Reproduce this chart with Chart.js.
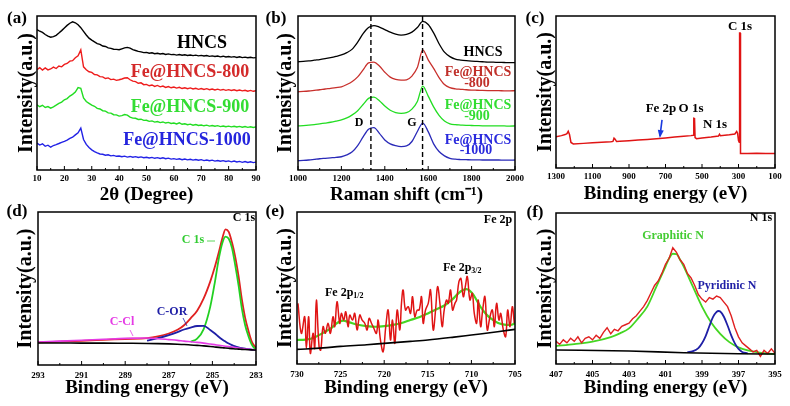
<!DOCTYPE html>
<html><head><meta charset="utf-8">
<script src="https://cdn.jsdelivr.net/npm/chart.js@4/dist/chart.umd.min.js"></script>
<style>
html,body{margin:0;padding:0;background:#fff;}
body{width:790px;height:406px;overflow:hidden;position:relative;}
canvas{position:absolute;}
</style></head><body>
<script>
// ---------------- DATA ----------------
// (a) XRD
const degX = [10,11,12,13,14,15,16,17,18,19,20,21,22,23,24,25,26,27,28,29,30,31,32,33,34,35,36,37,38,39,40,41,42,43,44,45,46,47,48,49,50,51,52,53,54,55,56,57,58,59,60,61,62,63,64,65,66,67,68,69,70,71,72,73,74,75,76,77,78,79,80,81,82,83,84,85,86,87,88,89,90];
const xrdHNCS = [91.2,90.1,89.3,88.0,86.9,86.2,86.6,87.4,88.9,90.5,92.2,93.9,95.3,96.2,95.6,94.3,92.4,90.0,87.7,85.6,84.3,83.2,82.1,81.6,80.5,80.2,79.3,79.0,78.4,78.3,78.1,78.7,79.3,79.6,79.1,78.2,77.6,77.0,76.7,76.2,76.4,75.8,76.1,75.5,75.8,75.3,75.6,75.0,75.4,74.9,75.1,74.6,75.0,74.5,74.8,74.4,74.7,74.3,74.6,74.1,74.4,74.0,74.3,73.8,74.1,73.7,74.0,73.5,73.9,73.4,73.7,73.3,73.6,73.1,73.5,73.0,73.3,72.9,73.2,72.8,73.0];
const xrd800 = [65.2,66.4,64.9,66.3,65.0,65.6,66.8,65.9,67.5,67.0,68.6,69.2,70.7,71.0,72.9,74.1,78.0,67.0,65.1,63.8,63.4,62.0,61.8,60.6,60.5,59.4,59.8,58.7,59.0,58.2,58.6,59.1,59.7,59.9,58.6,57.7,57.4,56.3,56.6,55.4,55.6,54.7,55.2,54.3,54.9,54.0,54.5,53.6,54.2,53.4,53.9,53.2,53.7,52.9,53.4,52.8,53.3,52.6,53.1,52.4,52.9,52.3,52.8,52.1,52.6,52.0,52.5,51.9,52.3,51.7,52.2,51.6,52.1,51.5,51.9,51.4,51.8,51.2,51.7,51.1,51.5];
const xrd900 = [42.3,41.1,42.0,40.6,41.2,40.2,41.0,42.1,43.2,44.1,45.6,46.4,48.0,49.1,50.6,53.5,53.0,46.8,44.5,43.3,42.1,41.4,40.0,39.6,38.5,38.2,37.1,36.9,35.9,35.8,35.0,35.3,36.0,35.6,34.3,33.7,33.6,32.8,33.0,32.2,32.3,31.6,31.9,31.1,31.5,30.8,31.2,30.5,30.9,30.2,30.5,29.9,30.6,29.7,30.0,29.4,29.8,29.1,29.5,28.9,29.2,28.7,29.1,28.5,28.9,28.4,28.8,28.2,28.6,28.1,28.5,28.0,28.4,27.9,28.3,27.8,28.2,27.7,28.1,27.6,28.0];
const xrd1000 = [17.5,16.2,17.0,15.4,16.1,14.8,15.9,16.5,17.2,18.0,18.6,19.4,20.5,21.3,22.8,24.2,27.2,19.8,16.6,14.6,13.1,12.0,11.1,10.4,10.2,9.6,9.9,9.2,9.5,8.9,9.1,8.6,9.0,8.4,8.8,8.3,8.7,8.1,8.5,8.0,8.3,7.8,8.2,7.6,8.0,7.5,7.9,7.3,7.7,7.1,7.4,6.9,7.3,6.7,7.1,6.6,7.0,6.4,6.8,6.3,6.7,6.1,6.5,6.0,6.4,5.8,6.2,5.7,6.1,5.5,5.9,5.3,5.8,5.2,5.6,5.0,5.5,4.9,5.3,4.8,5.1];
const ticksA = [10,20,30,40,50,60,70,80,90];

// (b) Raman
const ramanX = [1000,1025,1050,1075,1100,1125,1150,1175,1200,1225,1250,1275,1300,1325,1350,1375,1400,1425,1450,1475,1500,1525,1550,1575,1600,1625,1650,1675,1700,1725,1750,1775,1800,1825,1850,1875,1900,1925,1950,1975,2000];
const ramanHNCS = [70.3,70.6,70.8,71.3,71.7,72.3,73.0,73.8,74.7,76.2,78.5,83.0,88.5,92.5,93.8,92.8,91.2,89.5,88.2,87.6,88.0,89.5,92.5,96.5,94.5,89.0,82.0,76.5,73.6,72.0,71.4,71.0,70.7,70.5,70.3,70.1,70.0,69.9,69.8,69.7,69.7];
const raman800 = [50.8,51.0,51.3,51.7,52.1,52.6,53.0,53.5,54.0,55.5,57.5,60.5,65.0,69.5,70.0,67.5,63.5,60.3,58.8,58.3,58.6,61.0,66.5,78.0,71.5,66.0,60.0,55.5,53.5,52.7,52.4,52.1,51.9,51.8,51.7,51.6,51.5,51.5,51.4,51.4,51.5];
const raman900 = [28.6,28.8,29.1,29.5,30.0,30.5,31.0,31.7,32.5,33.8,35.8,38.5,42.5,46.5,47.3,45.0,41.5,38.8,37.3,36.8,37.2,39.5,44.5,54.5,48.0,41.0,35.5,31.8,30.0,29.4,29.2,29.0,28.9,28.8,28.7,28.7,28.6,28.6,28.6,28.5,28.6];
const raman1000 = [6.0,6.2,6.5,6.9,7.3,7.6,7.9,8.2,8.6,9.8,11.8,15.8,21.5,26.5,27.5,23.8,19.5,17.0,15.8,15.2,15.6,18.5,25.0,30.5,24.9,17.0,12.0,9.2,7.6,7.0,6.8,6.7,6.6,6.6,6.5,6.5,6.5,6.5,6.4,6.4,6.5];
const ramanPeakPos = [1336, 1574];
const ticksB = [1000,1200,1400,1600,1800,2000];

// (c) XPS survey
const surveyBE = [1300,1270,1250,1240,1233,1226,1218,1205,1150,1100,1050,1000,988,982,976,968,950,900,850,800,750,700,650,600,560,548,545,541,538,530,500,450,410,404,399,350,320,310,305,300,296,294,291,289,250,200,150,100];
const surveyI = [20.6,21.3,22.0,22.6,24.2,22.0,16.8,15.8,16.2,16.6,17.0,17.3,17.5,19.6,18.9,17.4,17.6,18.0,18.4,18.8,19.3,19.8,20.4,20.9,21.3,21.6,32.7,32.5,20.0,19.3,19.8,20.4,21.0,22.2,21.2,21.8,22.4,24.0,22.8,18.0,17.0,88.8,88.8,9.6,9.6,9.7,9.6,9.6];
const fe2pArrowBE = [719, 730];
const fe2pArrowI = [31.6, 21.0];
const ticksC = [100,300,500,700,900,1100,1300];

// (d) C 1s
const c1sBE = [293,292,291,290,289,288,287.5,287,286.6,286.3,286.0,285.7,285.4,285.1,284.9,284.7,284.55,284.4,284.25,284.1,283.95,283.8,283.65,283.5,283.35,283.2,283.0];
const c1sEnvelope = [14.8,15.3,15.8,16.4,17.0,17.6,18.7,20.6,23.0,26.0,30.5,35.5,43.5,54.5,63.5,74.0,82.5,88.7,87.0,80.0,70.5,58.0,43.0,31.0,22.5,15.5,11.0];
const c1sMain = [null,null,null,null,null,null,null,null,null,null,15.2,17.2,23.5,38.0,53.0,70.0,79.5,83.9,82.5,76.5,65.0,52.0,37.0,26.1,19.0,13.5,9.8];
const c1sCOR = [null,null,null,null,null,16.0,17.5,19.5,21.5,23.2,24.5,25.5,25.6,22.9,20.8,18.3,16.7,15.3,14.0,13.0,12.2,11.6,11.1,10.7,10.4,10.1,9.8];
const c1sCCl = [15.0,15.6,16.2,16.8,17.4,17.6,17.2,16.6,16.1,15.6,15.2,14.8,14.3,13.7,13.3,12.9,12.6,12.3,12.0,11.7,11.4,11.1,10.8,10.5,10.3,10.1,9.9];
const c1sBase = [14.4,14.4,14.3,14.3,14.2,14.1,14.0,13.8,13.6,13.4,13.1,12.8,12.5,12.1,11.8,11.5,11.3,11.1,10.9,10.7,10.5,10.4,10.2,10.1,10.0,9.9,9.8];
const ticksD = [283,285,287,289,291,293];

// (e) Fe 2p
const fe2pBE = [729.89,729.50,729.12,728.93,728.66,728.47,728.16,727.97,727.78,727.47,727.28,727.01,726.75,726.44,726.17,725.87,725.67,725.41,725.10,724.91,724.64,724.41,724.14,723.95,723.64,723.38,723.11,722.80,722.53,722.23,721.96,721.73,721.46,721.19,720.89,720.70,720.43,720.12,719.82,719.55,719.28,719.05,718.78,718.51,718.21,718.02,717.83,717.56,717.25,716.98,716.75,716.49,716.22,715.99,715.72,715.53,715.26,714.95,714.69,714.38,714.11,713.88,713.61,713.35,713.12,712.85,712.66,712.39,712.16,711.89,711.70,711.43,711.20,710.93,710.70,710.47,710.17,709.90,709.67,709.40,709.21,708.94,708.71,708.45,708.18,707.87,707.60,707.37,707.11,706.84,706.64,706.34,706.07,705.84,705.57,705.31,705.08];
const fe2pRaw = [39.9,20.2,31.1,10.3,31.1,7.0,20.2,10.3,42.1,11.4,9.2,24.6,20.2,26.8,20.2,31.1,24.6,41.0,26.8,33.3,28.9,34.4,24.6,32.2,28.9,33.3,22.4,32.2,28.9,26.8,22.4,30.0,26.8,23.5,20.2,28.9,15.8,8.1,24.6,35.5,15.8,28.9,13.6,35.5,22.4,39.9,48.7,35.5,37.7,33.3,44.3,31.1,35.5,35.5,44.3,26.8,35.5,39.9,48.7,22.4,35.5,50.9,39.9,24.6,35.5,42.1,39.9,48.7,35.5,39.9,42.1,54.2,56.3,44.3,50.9,57.5,42.1,46.5,33.3,26.8,42.1,24.6,35.5,44.3,22.4,31.1,35.5,24.6,39.9,28.9,33.3,22.4,18.0,35.5,24.6,37.7,26.8];
const fe2pFitBE = [730,729,728,727,726,725.5,725,724.7,724,723,722,721,720,719,718,717,716,715,714,713,712.5,712,711.5,711,710.6,710.2,709.8,709.4,709,708.5,708,707.5,707,706.5,706,705.5,705];
const fe2pFit = [15.8,16.0,17.5,20.5,24.0,26.5,28.2,28.5,27.4,25.8,24.9,24.5,24.9,25.7,27.0,28.9,30.8,33.3,36.0,38.8,41.0,43.5,46.5,48.5,49.2,48.3,45.8,42.0,38.0,34.0,31.0,28.9,27.2,26.2,25.7,25.7,26.8];
const fe2pBaseBE = [730,727,725,722,720,717,715,712,710,707,705];
const fe2pBase = [9.6,10.6,11.6,12.7,13.6,14.9,15.8,17.7,19.1,21.2,22.8];
const ticksE = [705,710,715,720,725,730];

// (f) N 1s
const n1sBE = [407,406.8,406.6,406.4,406.2,406,405.8,405.6,405.4,405.2,405,404.8,404.6,404.4,404.2,404,403.8,403.6,403.4,403.2,403,402.8,402.6,402.4,402.2,402,401.8,401.6,401.4,401.2,401,400.8,400.6,400.4,400.2,400,399.8,399.6,399.4,399.2,399,398.8,398.6,398.4,398.2,398,397.8,397.6,397.4,397.2,397,396.8,396.6,396.4,396.2,396,395.8,395.6,395.4,395.2,395];
const n1sRaw = [15,13,16,14,17,15,18,14,17,18,16,19,17,21,24,20,23,22,25,26,27,30,32,35,38,42,47,52,55,60,66,70,77,74,69,66,60,57,52,46,43,41,44,43,45,44,41,38,32,24,18,14,12,10,8,9,5,9,7,10,7];
const n1sGraphBE = [407,406,405,404,403.5,403,402.5,402,401.5,401,400.8,400.6,400.4,400.2,400,399.5,399,398.5,398,397.5,397,396.5,396,395.5,395];
const n1sGraph = [11.9,13.2,14.8,17.8,20.3,23.6,30.2,38.0,51.2,64.5,70.0,73.0,72.8,69.0,64.5,51.2,38.0,27.5,20.0,14.5,11.0,9.0,7.8,7.0,6.6];
const n1sPyrBE = [399.8,399.5,399.2,399,398.8,398.6,398.4,398.2,398.1,398,397.8,397.6,397.4,397.2,397,396.8,396.5];
const n1sPyr = [7.8,8.5,10.5,13.7,18.5,25.0,31.0,34.5,35.1,34.8,31.3,25.5,19.0,13.7,10.0,8.0,7.1];
const n1sBaseBE = [407,403,400,397,395];
const n1sBase = [9.3,8.6,7.5,6.8,6.6];
const ticksF = [395,397,399,401,403,405,407];

// ---------------- DRAWING ----------------
const SERIF = '"Liberation Serif", "Times New Roman", serif';
function pts(xs, ys){ return xs.map((x,i)=>({x:x, y:ys[i]})); }

function drawTexts(ctx, list, ox, oy){
  list.forEach(t=>{
    const size = t.size || 12;
    ctx.font = (t.normal ? '' : 'bold ') + size + 'px ' + SERIF;
    ctx.fillStyle = t.color || '#000';
    ctx.textBaseline = 'middle';
    if (t.sub){
      ctx.textAlign = 'left';
      ctx.fillText(t.text, t.x-ox, t.y-oy);
      const w = ctx.measureText(t.text).width;
      ctx.font = (t.normal ? '' : 'bold ') + Math.round(size*0.7) + 'px ' + SERIF;
      ctx.fillText(t.sub, t.x-ox+w, t.y-oy+3);
    } else {
      ctx.textAlign = t.align || 'center';
      ctx.fillText(t.text, t.x-ox, t.y-oy);
    }
  });
}

function makePanel(p){
  const cv = document.createElement('canvas');
  cv.width = p.w; cv.height = p.h;
  cv.style.left = p.left+'px'; cv.style.top = p.top+'px';
  cv.style.width = p.w+'px'; cv.style.height = p.h+'px';
  document.body.appendChild(cv);
  const xh = p.top + p.h - p.plot.b;
  const yw = p.plot.l - p.left;
  const annot = {
    id: 'annot_'+p.id,
    afterDraw(chart){
      const ctx = chart.ctx, a = chart.chartArea, xs = chart.scales.x, ys = chart.scales.y;
      ctx.save();
      (p.vlines||[]).forEach(v=>{
        const x = xs.getPixelForValue(v);
        ctx.beginPath(); ctx.setLineDash([5,3]); ctx.lineWidth=1.4; ctx.strokeStyle='#000';
        ctx.moveTo(x,a.top); ctx.lineTo(x,a.bottom); ctx.stroke();
      });
      ctx.setLineDash([]);
      (p.arrows||[]).forEach(ar=>{
        const x1 = xs.getPixelForValue(ar.x[0]), y1 = ys.getPixelForValue(ar.y[0]);
        const x2 = xs.getPixelForValue(ar.x[1]), y2 = ys.getPixelForValue(ar.y[1]);
        ctx.strokeStyle = ar.color; ctx.fillStyle = ar.color; ctx.lineWidth = 1.6;
        ctx.beginPath(); ctx.moveTo(x1,y1); ctx.lineTo(x2,y2); ctx.stroke();
        const ang = Math.atan2(y2-y1, x2-x1);
        ctx.beginPath(); ctx.moveTo(x2+2*Math.cos(ang), y2+2*Math.sin(ang));
        ctx.lineTo(x2-6*Math.cos(ang)+3*Math.sin(ang), y2-6*Math.sin(ang)-3*Math.cos(ang));
        ctx.lineTo(x2-6*Math.cos(ang)-3*Math.sin(ang), y2-6*Math.sin(ang)+3*Math.cos(ang));
        ctx.closePath(); ctx.fill();
      });
      (p.leaders||[]).forEach(l=>{
        ctx.strokeStyle = l.color; ctx.lineWidth = 0.8;
        ctx.beginPath(); ctx.moveTo(l.x1-p.left, l.y1-p.top); ctx.lineTo(l.x2-p.left, l.y2-p.top); ctx.stroke();
      });
      ctx.strokeStyle='#000'; ctx.lineWidth=1.5;
      ctx.strokeRect(a.left, a.top, a.right-a.left, a.bottom-a.top);
      ctx.lineWidth=1;
      p.ticks.forEach((t,i)=>{
        const x = xs.getPixelForValue(t);
        ctx.beginPath(); ctx.moveTo(x,a.bottom); ctx.lineTo(x,a.bottom-4); ctx.stroke();
        if (i < p.ticks.length-1){
          const xm = xs.getPixelForValue((t+p.ticks[i+1])/2);
          ctx.beginPath(); ctx.moveTo(xm,a.bottom); ctx.lineTo(xm,a.bottom-2); ctx.stroke();
        }
      });
      drawTexts(ctx, p.texts||[], p.left, p.top);
      ctx.restore();
    }
  };
  new Chart(cv, {
    type: 'line',
    data: { datasets: p.datasets.map(d=>({
      data: pts(d.x, d.y), borderColor: d.c, borderWidth: d.w || 1, pointRadius: 0,
      tension: d.t || 0, cubicInterpolationMode: d.mono ? 'monotone' : 'default',
      fill: false, spanGaps: false
    })) },
    options: {
      responsive: false, animation: false, devicePixelRatio: 1,
      layout: { padding: { left: 0, top: p.plot.t - p.top, right: p.left + p.w - p.plot.r, bottom: 0 } },
      plugins: { legend: { display: false }, tooltip: { enabled: false } },
      scales: {
        x: {
          type: 'linear', min: p.xmin, max: p.xmax, reverse: !!p.reverse,
          afterBuildTicks: s => { s.ticks = p.ticks.map(v=>({value:v})); },
          afterFit: s => { s.height = xh; },
          grid: { display: false, drawTicks: false }, border: { display: false },
          ticks: { font: { size: 9, weight: 'bold', family: SERIF }, color: '#000', padding: p.tickPad,
                   maxRotation: 0, autoSkip: false, callback: v => String(v) },
          title: { display: true, text: p.xtitle, color: '#000',
                   font: { size: 19, weight: 'bold', family: SERIF, lineHeight: 1 },
                   padding: { top: 0, bottom: p.top + p.h - 9.5 - p.xtitleY } }
        },
        y: {
          type: 'linear', min: 0, max: 100,
          afterFit: s => { s.width = yw; },
          grid: { display: false, drawTicks: false }, border: { display: false },
          ticks: { display: false },
          title: { display: true, text: 'Intensity(a.u.)', color: '#000',
                   font: { size: 20, weight: 'bold', family: SERIF, lineHeight: 1 },
                   padding: { top: p.ytitleX - p.left - 10, bottom: 0 } }
        }
      }
    },
    plugins: [annot]
  });
}

const RED='#ee1c1c', GREEN='#22dd22', BLUE='#2222e6', NAVY='#1f1fa6', MAG='#e53be5';

makePanel({ id:'a', left:0, top:0, w:275, h:206, plot:{l:37,t:16,r:256,b:170},
  xmin:10, xmax:90, ticks:ticksA, tickPad:3, xtitle:'2θ (Degree)', xtitleY:195, ytitleX:27,
  datasets:[
    {x:degX, y:xrdHNCS, c:'#000', w:1.4},
    {x:degX, y:xrd800, c:RED, w:1.4},
    {x:degX, y:xrd900, c:GREEN, w:1.4},
    {x:degX, y:xrd1000, c:BLUE, w:1.4}
  ],
  texts:[
    {text:'(a)', x:17, y:19, size:17},
    {text:'HNCS', x:202, y:43, size:18},
    {text:'Fe@HNCS-800', x:190, y:72, size:18, color:'#d42a2a'},
    {text:'Fe@HNCS-900', x:190, y:107, size:18, color:'#33dd33'},
    {text:'Fe@HNCS-1000', x:187, y:140, size:18, color:'#2525dd'}
  ]});

makePanel({ id:'b', left:262, top:0, w:270, h:206, plot:{l:298,t:16,r:515,b:170},
  xmin:1000, xmax:2000, ticks:ticksB, tickPad:3, xtitle:'Raman shift (cm⁻¹)', xtitleY:195, ytitleX:286,
  vlines: ramanPeakPos,
  datasets:[
    {x:ramanX, y:ramanHNCS, c:'#000', w:1.3, t:0.3, mono:true},
    {x:ramanX, y:raman800, c:'#c8302c', w:1.3, t:0.3, mono:true},
    {x:ramanX, y:raman900, c:GREEN, w:1.3, t:0.3, mono:true},
    {x:ramanX, y:raman1000, c:'#2a2ab8', w:1.3, t:0.3, mono:true}
  ],
  texts:[
    {text:'(b)', x:276, y:19, size:17},
    {text:'HNCS', x:483, y:52, size:14},
    {text:'Fe@HNCS', x:478, y:72, size:14, color:'#c0302a'},
    {text:'-800', x:477, y:83, size:14, color:'#c0302a'},
    {text:'Fe@HNCS', x:478, y:105, size:14, color:'#33dd33'},
    {text:'-900', x:477, y:116, size:14, color:'#33dd33'},
    {text:'Fe@HNCS', x:478, y:140, size:14, color:'#2a2add'},
    {text:'-1000', x:476, y:150, size:14, color:'#2a2add'},
    {text:'D', x:359, y:123, size:12},
    {text:'G', x:412, y:123, size:12}
  ]});

makePanel({ id:'c', left:522, top:0, w:268, h:206, plot:{l:556,t:16,r:775,b:168},
  xmin:100, xmax:1300, reverse:true, ticks:ticksC, tickPad:3, xtitle:'Binding energy (eV)', xtitleY:194, ytitleX:546,
  arrows:[{x:fe2pArrowBE, y:fe2pArrowI, color:'#1a3ae0'}],
  datasets:[ {x:surveyBE, y:surveyI, c:'#e01414', w:1.5} ],
  texts:[
    {text:'(c)', x:535, y:19, size:17},
    {text:'C 1s', x:740, y:27, size:13},
    {text:'Fe 2p', x:661, y:109, size:13},
    {text:'O 1s', x:691, y:109, size:13},
    {text:'N 1s', x:715, y:125, size:13}
  ]});

makePanel({ id:'d', left:0, top:200, w:275, h:206, plot:{l:38,t:212,r:256,b:365},
  xmin:283, xmax:293, reverse:true, ticks:ticksD, tickPad:5, xtitle:'Binding energy (eV)', xtitleY:388, ytitleX:26,
  leaders:[
    {x1:207, y1:241, x2:215, y2:241, color:'#33cc33'},
    {x1:183, y1:318, x2:187, y2:326, color:NAVY},
    {x1:130, y1:330, x2:133, y2:336, color:MAG}
  ],
  datasets:[
    {x:c1sBE, y:c1sBase, c:'#000', w:1.6, t:0.3, mono:true},
    {x:c1sBE, y:c1sCCl, c:MAG, w:1.6, t:0.3, mono:true},
    {x:c1sBE, y:c1sCOR, c:NAVY, w:1.8, t:0.3, mono:true},
    {x:c1sBE, y:c1sMain, c:'#22d022', w:1.8, t:0.3, mono:true},
    {x:c1sBE, y:c1sEnvelope, c:'#e02020', w:1.8, t:0.3, mono:true}
  ],
  texts:[
    {text:'(d)', x:17, y:212, size:17},
    {text:'C 1s', x:244, y:218, size:12},
    {text:'C 1s', x:193, y:240, size:12, color:'#33cc33'},
    {text:'C-OR', x:172, y:312, size:12, color:NAVY},
    {text:'C-Cl', x:122, y:322, size:12, color:MAG}
  ]});

makePanel({ id:'e', left:262, top:200, w:270, h:206, plot:{l:297,t:212,r:515,b:364},
  xmin:705, xmax:730, reverse:true, ticks:ticksE, tickPad:5, xtitle:'Binding energy (eV)', xtitleY:388, ytitleX:286,
  datasets:[
    {x:fe2pBaseBE, y:fe2pBase, c:'#000', w:1.6, t:0.3, mono:true},
    {x:fe2pBE, y:fe2pRaw, c:'#e01414', w:1.5, t:0.4},
    {x:fe2pFitBE, y:fe2pFit, c:'#44d622', w:2.2, t:0.3, mono:true}
  ],
  texts:[
    {text:'(e)', x:275, y:212, size:17},
    {text:'Fe 2p', x:498, y:220, size:12},
    {text:'Fe 2p', sub:'1/2', x:325, y:293, size:12},
    {text:'Fe 2p', sub:'3/2', x:443, y:268, size:12}
  ]});

makePanel({ id:'f', left:522, top:200, w:268, h:206, plot:{l:556,t:213,r:775,b:364},
  xmin:395, xmax:407, reverse:true, ticks:ticksF, tickPad:5, xtitle:'Binding energy (eV)', xtitleY:388, ytitleX:546,
  datasets:[
    {x:n1sBaseBE, y:n1sBase, c:'#000', w:1.6, t:0.3, mono:true},
    {x:n1sBE, y:n1sRaw, c:'#e02020', w:1.4},
    {x:n1sPyrBE, y:n1sPyr, c:NAVY, w:1.8, t:0.3, mono:true},
    {x:n1sGraphBE, y:n1sGraph, c:'#44d622', w:1.8, t:0.3, mono:true}
  ],
  texts:[
    {text:'(f)', x:535, y:213, size:17},
    {text:'N 1s', x:761, y:218, size:12},
    {text:'Graphitic N', x:673, y:236, size:12, color:'#44cc33'},
    {text:'Pyridinic N', x:727, y:286, size:12, color:NAVY}
  ]});
</script>
</body></html>
